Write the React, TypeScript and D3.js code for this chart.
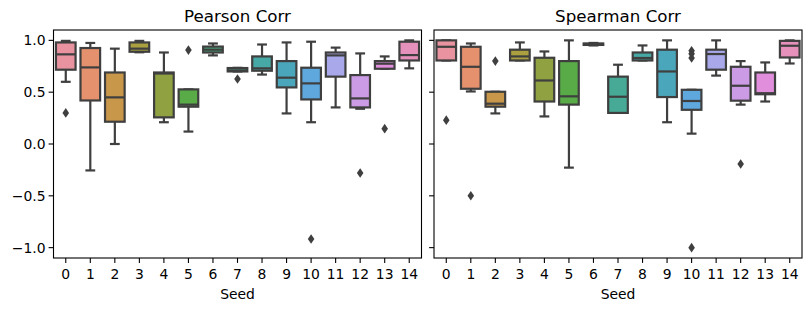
import { useEffect } from 'react';
import * as d3 from 'd3';

// seeds on the x axis
const seeds = d3.range(15).map(String);
const yTicks = [-1.0, -0.5, 0.0, 0.5, 1.0];

// seaborn husl palette (desaturated) for 15 hues
const palette = [
  '#e8939f', '#e5916e', '#c9974a', '#aaa03f', '#8fa141', '#58ab47', '#4aab7c', '#47aa96',
  '#47a9a5', '#4aa6ba', '#5ea8dd', '#a8a8ea', '#cc9be5', '#e18fdc', '#e691bb',
];

// box stats per seed: [lower whisker, q1, median, q3, upper whisker]
const pearsonBoxes = [
  [0.60, 0.717, 0.865, 0.98, 0.995],
  [-0.255, 0.42, 0.739, 0.926, 0.975],
  [0.0, 0.215, 0.45, 0.69, 0.92],
  [0.885, 0.89, 0.92, 0.98, 0.995],
  [0.21, 0.257, 0.68, 0.69, 0.883],
  [0.12, 0.36, 0.38, 0.527, 0.527],
  [0.855, 0.883, 0.91, 0.94, 0.97],
  [0.70, 0.70, 0.71, 0.733, 0.735],
  [0.67, 0.707, 0.73, 0.845, 0.96],
  [0.295, 0.546, 0.64, 0.80, 0.98],
  [0.21, 0.43, 0.585, 0.736, 0.987],
  [0.353, 0.65, 0.855, 0.883, 0.93],
  [0.34, 0.353, 0.44, 0.665, 0.874],
  [0.726, 0.726, 0.775, 0.80, 0.845],
  [0.73, 0.806, 0.858, 0.987, 1.0],
];
const pearsonOutliers = [[0.30], [], [], [], [], [0.906], [], [0.627], [], [], [-0.916], [], [-0.28], [0.148], []];

const spearmanBoxes = [
  [0.806, 0.806, 0.938, 1.0, 1.0],
  [0.507, 0.533, 0.745, 0.938, 0.97],
  [0.295, 0.36, 0.389, 0.504, 0.504],
  [0.806, 0.806, 0.845, 0.91, 0.98],
  [0.266, 0.41, 0.613, 0.832, 0.893],
  [-0.228, 0.38, 0.46, 0.80, 1.0],
  [0.951, 0.956, 0.965, 0.97, 0.975],
  [0.30, 0.30, 0.456, 0.65, 0.765],
  [0.806, 0.806, 0.83, 0.883, 0.951],
  [0.21, 0.453, 0.70, 0.91, 1.0],
  [0.10, 0.33, 0.415, 0.523, 0.523],
  [0.66, 0.717, 0.868, 0.91, 1.0],
  [0.38, 0.418, 0.562, 0.745, 0.80],
  [0.41, 0.48, 0.49, 0.69, 0.787],
  [0.777, 0.835, 0.948, 0.995, 1.0],
];
const spearmanOutliers = [[0.23], [-0.50], [0.80], [], [], [], [], [], [], [], [0.90, 0.87, 0.83, -1.0], [], [-0.193], [], []];

const W = 811;
const H = 311;
const top = 30;
const bottom = 258;
const lineColor = '#3f3f3f';
const font = 'DejaVu Sans, sans-serif';

const y = d3.scaleLinear().domain([-1.1, 1.1]).range([bottom, top]);

function Panel({ x0, x1, title, boxes, outliers, showLabels }: any) {
  const x = d3.scaleBand().domain(seeds).range([x0, x1]).paddingInner(0.2).paddingOuter(0.1);
  const bw = x.bandwidth();
  const diamond = (cx: number, cy: number) => `M${cx},${cy - 4.8}L${cx + 3.3},${cy}L${cx},${cy + 4.8}L${cx - 3.3},${cy}Z`;
  return (
    <g>
      <text x={(x0 + x1) / 2} y={22} textAnchor="middle" fontSize={16.7} fontFamily={font} fill="#000">{title}</text>
      {boxes.map((b: number[], i: number) => {
        const cx = x(seeds[i])! + bw / 2;
        const left = x(seeds[i])!;
        const [lo, q1, med, q3, hi] = b;
        return (
          <g key={i} stroke={lineColor} strokeWidth={2.2}>
            <line x1={cx} x2={cx} y1={y(q1)} y2={y(lo)} />
            <line x1={cx} x2={cx} y1={y(q3)} y2={y(hi)} />
            <line x1={cx - bw / 4} x2={cx + bw / 4} y1={y(lo)} y2={y(lo)} />
            <line x1={cx - bw / 4} x2={cx + bw / 4} y1={y(hi)} y2={y(hi)} />
            <rect x={left} width={bw} y={y(q3)} height={Math.max(y(q1) - y(q3), 0.5)} fill={palette[i]} />
            <line x1={left} x2={left + bw} y1={y(med)} y2={y(med)} />
            {outliers[i].map((v: number, k: number) => (
              <path key={k} d={diamond(cx, y(v))} fill={lineColor} stroke="none" />
            ))}
          </g>
        );
      })}
      <rect x={x0} y={top} width={x1 - x0} height={bottom - top} fill="none" stroke="#000" strokeWidth={1.1} />
      {seeds.map((s) => {
        const cx = x(s)! + bw / 2;
        return (
          <g key={s}>
            <line x1={cx} x2={cx} y1={bottom} y2={bottom + 4.9} stroke="#000" strokeWidth={1.1} />
            <text x={cx} y={279} textAnchor="middle" fontSize={13.9} fontFamily={font} fill="#000">{s}</text>
          </g>
        );
      })}
      <text x={(x0 + x1) / 2} y={299} textAnchor="middle" fontSize={13.9} fontFamily={font} fill="#000">Seed</text>
      {yTicks.map((t) => (
        <g key={t}>
          <line x1={x0 - 4.9} x2={x0} y1={y(t)} y2={y(t)} stroke="#000" strokeWidth={1.1} />
          {showLabels && (
            <text x={x0 - 8} y={y(t) + 5} textAnchor="end" fontSize={13.9} fontFamily={font} fill="#000">
              {d3.format('.1f')(t).replace('-', '\u2212')}
            </text>
          )}
        </g>
      ))}
    </g>
  );
}

export default function App() {
  useEffect(() => {
    document.body.style.margin = '0';
  }, []);
  return (
    <svg width={W} height={H} style={{ display: 'block', background: '#fff' }}>
      <Panel x0={53.5} x1={421.5} title="Pearson Corr" boxes={pearsonBoxes} outliers={pearsonOutliers} showLabels />
      <Panel x0={434} x1={802} title="Spearman Corr" boxes={spearmanBoxes} outliers={spearmanOutliers} showLabels={false} />
    </svg>
  );
}
